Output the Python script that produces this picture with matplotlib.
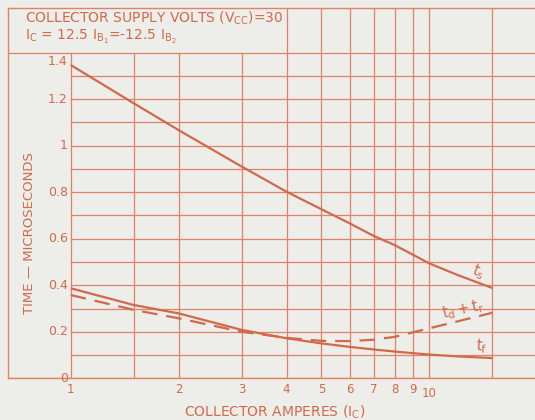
import numpy as np
import matplotlib
matplotlib.use("Agg")
import matplotlib.pyplot as plt

# Switching times vs collector current
collector_amps = [1, 1.5, 2, 3, 4, 5, 6, 7, 8, 10, 12, 15]
t_storage = [1.347, 1.182, 1.067, 0.91, 0.802, 0.727, 0.666, 0.612, 0.573, 0.494, 0.444, 0.388]
t_fall = [0.387, 0.315, 0.279, 0.208, 0.172, 0.15, 0.135, 0.124, 0.115, 0.102, 0.094, 0.087]
t_delay_rise = [0.358, 0.294, 0.258, 0.200, 0.174, 0.161, 0.160, 0.166, 0.178, 0.215, 0.245, 0.282]

x_tick_values = [1, 2, 3, 4, 5, 6, 7, 8, 9, 10]
x_tick_labels = ["1", "2", "3", "4", "5", "6", "7", "8", "9", "10"]
x_grid_values = [1, 1.5, 2, 3, 4, 5, 6, 7, 8, 9, 10, 15]
y_tick_values = [0, 0.2, 0.4, 0.6, 0.8, 1.0, 1.2, 1.4]
y_tick_labels = ["0", "0.2", "0.4", "0.6", "0.8", "1", "1.2", "1.4"]
y_grid_values = [round(0.1 * i, 1) for i in range(0, 15)]

INK = "#d2694a"
GRID = "#df8265"
PAPER = "#ededea"

plt.rcParams["font.family"] = ["DejaVu Sans"]

W, H = 535, 420
fig = plt.figure(figsize=(W / 100, H / 100), dpi=100)
fig.patch.set_facecolor(PAPER)

# frame in pixels: left 8, top 8.3, bottom 378.3, right runs off the sheet
left_px, top_px, bot_px, right_px = 8, 8.3, 378.3, 535
ax = fig.add_axes([left_px / W, 1 - bot_px / H, (right_px - left_px) / W, (bot_px - top_px) / H])
ax.set_facecolor(PAPER)

# log x: 1 at px 70.7, one decade = 358.6 px
px_x1, decade = 70.7, 358.6
xmin = 10 ** ((left_px - px_x1) / decade)
xmax = 10 ** ((right_px - px_x1) / decade)
px_per_unit = 232.6
ytop = (bot_px - top_px) / px_per_unit
ax.set_xscale("log")
ax.set_xlim(xmin, xmax)
ax.set_ylim(0, ytop)
ax.set_xticks([])
ax.set_yticks([])
ax.minorticks_off()
for s in ["left", "top", "bottom"]:
    ax.spines[s].set_color(GRID)
    ax.spines[s].set_linewidth(1.0)
ax.spines["right"].set_visible(False)

# grid
for v in y_grid_values:
    x0 = xmin if v in (0, 1.4) else 1
    ax.plot([x0, xmax], [v, v], color=GRID, lw=0.9, zorder=1, snap=True)
for v in x_grid_values:
    y1 = ytop if v >= 4 else 1.4
    ax.plot([v, v], [0, y1], color=GRID, lw=0.9, zorder=1, snap=True)

# curves
ax.plot(collector_amps, t_storage, color=INK, lw=1.6, zorder=3, solid_capstyle="butt")
ax.plot(collector_amps, t_fall, color=INK, lw=1.6, zorder=3, solid_capstyle="butt")
ax.plot(collector_amps, t_delay_rise, color=INK, lw=1.6, zorder=3,
        dashes=(7, 4), dash_capstyle="butt")

# curve labels
ax.text(13.67, 0.457, r"$\mathregular{t_s}$", color=INK, fontsize=10.5,
        rotation=-22, ha="center", va="center")
ax.text(12.42, 0.297, r"$\mathregular{t_d + t_r}$", color=INK, fontsize=10.5,
        rotation=12, ha="center", va="center")
ax.text(13.94, 0.139, r"$\mathregular{t_f}$", color=INK, fontsize=10.5,
        rotation=-4, ha="center", va="center")

# tick labels
for v, lab in zip(y_tick_values, y_tick_labels):
    dy = -9 if v == 1.4 else 0
    ax.annotate(lab, xy=(1, v), xytext=(-3, dy), textcoords="offset pixels",
                ha="right", va="center", color=INK, fontsize=9)
for v, lab in zip(x_tick_values, x_tick_labels):
    dy = -15 if v == 10 else -11
    ax.annotate(lab, xy=(v, 0), xytext=(0, dy), textcoords="offset pixels",
                ha="center", va="center", color=INK, fontsize=8.5,
                annotation_clip=False)

# axis titles
fig.text(30 / W, 1 - 233 / H, "TIME — MICROSECONDS", rotation=90, color=INK,
         fontsize=9.5, ha="center", va="center")
fig.text(275 / W, 1 - 412 / H, r"COLLECTOR AMPERES (I$_\mathregular{C}$)", color=INK,
         fontsize=10, ha="center", va="center")

# conditions box
fig.text(25 / W, 1 - 18.5 / H, r"COLLECTOR SUPPLY VOLTS (V$_\mathregular{CC}$)=30",
         color=INK, fontsize=10, ha="left", va="center")
fig.text(25 / W, 1 - 36.5 / H,
         r"I$_\mathregular{C}$ = 12.5 I$_{\mathregular{B}_{1}}$=-12.5 I$_{\mathregular{B}_{2}}$",
         color=INK, fontsize=10, ha="left", va="center")

fig.savefig("out.png", dpi=100, facecolor=PAPER)
